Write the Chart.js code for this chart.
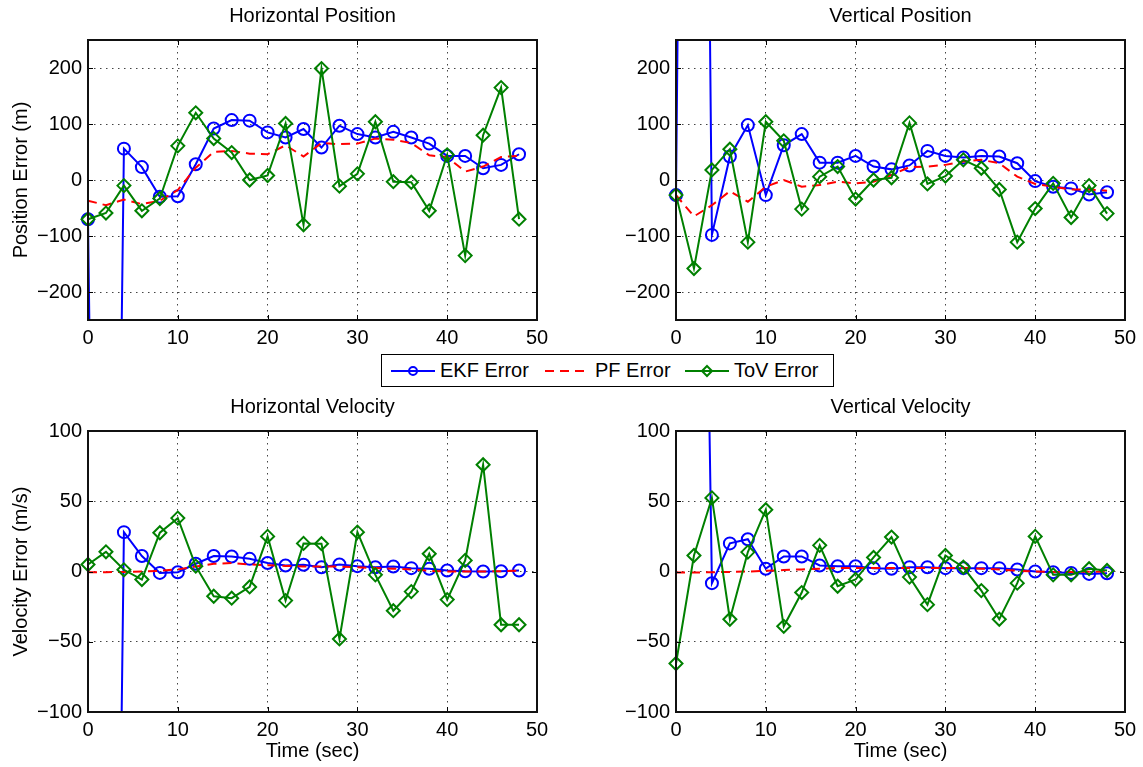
<!DOCTYPE html>
<html>
<head>
<meta charset="utf-8">
<script src="https://cdn.jsdelivr.net/npm/chart.js@4"></script>
<style>
body { margin: 0; background: #fff; width: 1143px; height: 767px; position: relative; overflow: hidden; font-family: "Liberation Sans", Arial, sans-serif; }
canvas { position: absolute; }
#legend { position: absolute; left: 381px; top: 354px; width: 451px; height: 31px; border: 1px solid #000; background: #fff; font-size: 20px; }
#legend svg, #legend span { position: absolute; }
#legend span { top: 4px; color: #000; }
</style>
</head>
<body>
<canvas id="hPos" width="565" height="345" style="left:0;top:0"></canvas>
<canvas id="vPos" width="555" height="345" style="left:588px;top:0"></canvas>
<canvas id="hVel" width="565" height="373" style="left:0;top:390px"></canvas>
<canvas id="vVel" width="555" height="373" style="left:588px;top:390px"></canvas>

<div id="legend">
  <svg width="46" height="14" style="left:9px;top:9px"><line x1="0" y1="7" x2="44" y2="7" stroke="#0000ff" stroke-width="2"/><circle cx="22" cy="7" r="4" fill="none" stroke="#0000ff" stroke-width="2"/></svg>
  <span style="left:58px">EKF Error</span>
  <svg width="46" height="14" style="left:162px;top:9px"><line x1="1" y1="7" x2="45" y2="7" stroke="#ff0000" stroke-width="2" stroke-dasharray="9,6"/></svg>
  <span style="left:213px">PF Error</span>
  <svg width="46" height="14" style="left:303px;top:9px"><line x1="0" y1="7" x2="44" y2="7" stroke="#008000" stroke-width="2"/><path d="M22 2 L27 7 L22 12 L17 7 Z" fill="none" stroke="#008000" stroke-width="2"/></svg>
  <span style="left:352px">ToV Error</span>
</div>

<script>
// sample times (sec)
var times = [0, 2, 4, 6, 8, 10, 12, 14, 16, 18, 20, 22, 24, 26, 28, 30, 32, 34, 36, 38, 40, 42, 44, 46, 48];

// Horizontal position error (m)
var hPosEkf = [-70, -2500, 56, 23, -30, -29, 28, 92, 107, 106, 85, 76, 91, 58, 97, 82, 76, 86, 76, 65, 43, 43, 21, 27, 46];
var hPosPf  = [-37, -45, -35, -43, -37, -18, 22, 50, 52, 47, 46, 62, 42, 66, 64, 65, 74, 72, 66, 44, 41, 15, 24, 41, 43];
var hPosTov = [-70, -59, -10, -55, -33, 61, 120, 74, 49, 0, 8, 101, -80, 199, -11, 11, 104, -3, -4, -55, 45, -135, 80, 165, -70];

// Vertical position error (m)
var vPosEkf = [-27, 3200, -98, 42, 98, -27, 62, 82, 31, 31, 43, 24, 19, 26, 52, 43, 40, 43, 42, 30, -2, -12, -15, -26, -22];
var vPosPf  = [-27, -65, -45, -20, -39, -12, 0, -12, -9, -3, -6, -3, 9, 23, 24, 27, 33, 36, 30, 6, -7, -12, -17, -17, -19];
var vPosTov = [-27, -158, 18, 55, -111, 104, 70, -52, 6, 24, -34, 0, 4, 102, -7, 7, 36, 21, -17, -111, -51, -6, -67, -10, -60];

// Horizontal velocity error (m/s)
var hVelEkf = [null, -1000, 28, 11, -1, -0.5, 5.5, 11, 10.7, 9, 6, 4.3, 4.8, 3, 5, 3.8, 3, 3.6, 2.4, 2, 0.7, 0.2, 0, 0.2, 0.7];
var hVelPf  = [-0.5, -0.5, -0.3, 0, 0.5, 1.5, 3.5, 5.5, 6, 5, 4.5, 4, 3.5, 3.5, 3.5, 3, 2.5, 2, 1.5, 0.5, 0, 0, 0, 0.2, 0.5];
var hVelTov = [5, 14, 1.2, -5.7, 27.6, 38, 3.8, -17.6, -19, -11, 25, -20.7, 20, 19.8, -48, 28, -2.4, -27.9, -14.3, 12.6, -20, 7.9, 76, -37.9, -37.9];

// Vertical velocity error (m/s)
var vVelEkf = [null, 800, -8.3, 20, 23, 2, 10.7, 10.7, 4.3, 3.8, 3.8, 2.4, 2, 3, 3, 2.4, 2.4, 2.4, 2.4, 1.4, 0, -0.5, -1, -1.7, -1.2];
var vVelPf  = [-0.8, -0.8, -0.5, -0.3, 0, 0.5, 1, 1.5, 2, 2.5, 2.5, 2.5, 2.5, 2.5, 2.5, 2.5, 2.5, 2, 1.5, 0.5, 0, -0.3, -0.3, -0.2, 0];
var vVelTov = [-65.5, 11.4, 52.4, -34, 13.8, 44, -39, -15, 18.6, -10.5, -5.7, 10, 24.5, -4, -23.6, 11.4, 3, -13.6, -34, -8.3, 25, -2.4, -2.4, 2, 0.7];

// tick labels
var timeTicks = [0, 10, 20, 30, 40, 50];
var posTicks = [-200, -100, 0, 100, 200];
var velTicks = [-100, -50, 0, 50, 100];

var FONT = "'Liberation Sans', Arial, sans-serif";
Chart.defaults.font.family = FONT;
Chart.defaults.font.size = 20;
Chart.defaults.color = "#000";

function pts(ys) {
  return times.map(function (t, i) { return { x: t, y: ys[i] }; });
}

function fmt(v) {
  return String(v).replace("-", "\u2212");
}

// box, inward ticks and title like the original figure
var framePlugin = {
  id: "frame",
  afterDraw: function (chart) {
    var a = chart.chartArea, ctx = chart.ctx;
    var xs = chart.scales.x, ys = chart.scales.y;
    ctx.save();
    ctx.strokeStyle = "#000";
    ctx.lineWidth = 1;
    ctx.beginPath();
    xs.ticks.forEach(function (t) {
      var px = Math.round(xs.getPixelForValue(t.value)) + 0.5;
      ctx.moveTo(px, a.bottom); ctx.lineTo(px, a.bottom - 5);
      ctx.moveTo(px, a.top); ctx.lineTo(px, a.top + 5);
    });
    ys.ticks.forEach(function (t) {
      var py = Math.round(ys.getPixelForValue(t.value)) + 0.5;
      ctx.moveTo(a.left, py); ctx.lineTo(a.left + 5, py);
      ctx.moveTo(a.right, py); ctx.lineTo(a.right - 5, py);
    });
    ctx.stroke();
    ctx.lineWidth = 2;
    ctx.strokeStyle = "#111";
    ctx.strokeRect(a.left, a.top, a.right - a.left, a.bottom - a.top);
    ctx.fillStyle = "#000";
    ctx.font = "20px " + FONT;
    ctx.textAlign = "center";
    ctx.textBaseline = "middle";
    ctx.fillText(chart.options.plugins.frame.title, (a.left + a.right) / 2, a.top - 24);
    ctx.restore();
  }
};

function makeChart(id, cfg) {
  var yTicks = cfg.yTicks;
  new Chart(document.getElementById(id), {
    type: "line",
    data: {
      datasets: [
        { label: "EKF Error", data: pts(cfg.ekf), borderColor: "#0000ff", borderWidth: 2,
          pointStyle: "circle", pointRadius: 6, pointBorderWidth: 2, pointBorderColor: "#0000ff",
          pointBackgroundColor: "rgba(0,0,0,0)", order: 2 },
        { label: "PF Error", data: pts(cfg.pf), borderColor: "#ff0000", borderWidth: 2,
          borderDash: [9, 6], pointRadius: 0, order: 1 },
        { label: "ToV Error", data: pts(cfg.tov), borderColor: "#008000", borderWidth: 2,
          pointStyle: "rectRot", pointRadius: 6.5, pointBorderWidth: 2, pointBorderColor: "#008000",
          pointBackgroundColor: "rgba(0,0,0,0)", order: 0 }
      ]
    },
    options: {
      responsive: false,
      animation: false,
      spanGaps: false,
      elements: { line: { tension: 0 } },
      clip: { left: 8, right: 8, top: 0, bottom: 0 },
      layout: { padding: { top: cfg.top, right: cfg.right, left: 0, bottom: 0 } },
      plugins: {
        legend: { display: false },
        tooltip: { enabled: false },
        frame: { title: cfg.title }
      },
      scales: {
        x: {
          type: "linear", min: 0, max: 50,
          afterBuildTicks: function (s) { s.ticks = timeTicks.map(function (v) { return { value: v }; }); },
          afterFit: function (s) { s.height = cfg.xHeight; },
          ticks: { padding: 6, maxRotation: 0, callback: fmt },
          grid: { drawTicks: false, color: function (c) { return (c.tick && (c.tick.value === 0 || c.tick.value === 50)) ? "rgba(0,0,0,0)" : "#444"; }, lineWidth: 1 },
          border: { display: false, dash: [1.5, 4.5] },
          title: { display: !!cfg.xTitle, text: cfg.xTitle || "", padding: { top: 0, bottom: 0 } }
        },
        y: {
          type: "linear", min: yTicks[0] === -200 ? -250 : -100, max: yTicks[0] === -200 ? 250 : 100,
          afterBuildTicks: function (s) { s.ticks = yTicks.map(function (v) { return { value: v }; }); },
          afterFit: function (s) { s.width = 88; },
          ticks: { padding: 6, callback: fmt },
          grid: { drawTicks: false, color: function (c) { return (c.tick && Math.abs(c.tick.value) === 100 && yTicks[0] === -100) ? "rgba(0,0,0,0)" : "#444"; }, lineWidth: 1 },
          border: { display: false, dash: [1.5, 4.5] },
          title: { display: !!cfg.yTitle, text: cfg.yTitle || "", padding: { top: 9, bottom: 0 } }
        }
      }
    },
    plugins: [framePlugin]
  });
}

makeChart("hPos", { title: "Horizontal Position", yTitle: "Position Error (m)", ekf: hPosEkf, pf: hPosPf, tov: hPosTov, yTicks: posTicks, top: 40, right: 28, xHeight: 25 });
makeChart("vPos", { title: "Vertical Position", yTitle: "", ekf: vPosEkf, pf: vPosPf, tov: vPosTov, yTicks: posTicks, top: 40, right: 18, xHeight: 25 });
makeChart("hVel", { title: "Horizontal Velocity", yTitle: "Velocity Error (m/s)", xTitle: "Time (sec)", ekf: hVelEkf, pf: hVelPf, tov: hVelTov, yTicks: velTicks, top: 41, right: 28, xHeight: 51 });
makeChart("vVel", { title: "Vertical Velocity", yTitle: "", xTitle: "Time (sec)", ekf: vVelEkf, pf: vVelPf, tov: vVelTov, yTicks: velTicks, top: 41, right: 18, xHeight: 51 });
</script>
</body>
</html>
